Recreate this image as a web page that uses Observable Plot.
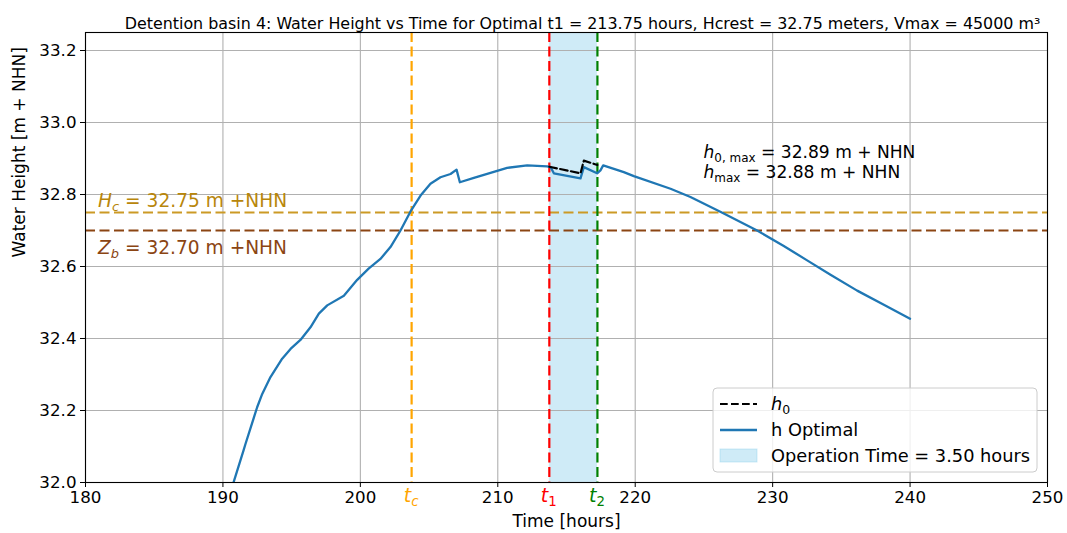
<!DOCTYPE html>
<html><head><meta charset="utf-8">
<script src="https://cdn.jsdelivr.net/npm/d3@7"></script>
<script src="https://cdn.jsdelivr.net/npm/@observablehq/plot@0.6"></script>
<style>body{margin:0;background:#fff;font-family:"DejaVu Sans",sans-serif}</style>
</head><body><div id="chart"></div>
<script>
const FONT = "DejaVu Sans";
const titleText = "Detention basin 4: Water Height vs Time for Optimal t1 = 213.75 hours, Hcrest = 32.75 meters, Vmax = 45000 m³";
const xLabel = "Time [hours]";
const yLabel = "Water Height [m + NHN]";
const xTicks = [180, 190, 200, 210, 220, 230, 240, 250];
const yTicks = [32.0, 32.2, 32.4, 32.6, 32.8, 33.0, 33.2];

// h Optimal
const timeOpt = [190.77, 191.5, 191.64, 192.49, 192.86, 193.46, 194.31, 194.92, 195.64, 196.37, 196.98, 197.59, 198.8, 199.77, 200.6, 201.46, 202.19, 202.92, 203.65, 204.38, 205.1, 205.83, 206.56, 207.0, 207.24, 208.26, 209.47, 210.68, 212.14, 213.59, 213.84, 214.08, 216.02, 216.26, 217.23, 217.47, 217.67, 219.17, 219.9, 222.57, 224.02, 226.3, 228.87, 230.81, 232.51, 234.21, 236.15, 238.09, 240.0];
const hOpt = [32.0, 32.089, 32.107, 32.209, 32.246, 32.293, 32.344, 32.371, 32.396, 32.431, 32.469, 32.492, 32.519, 32.563, 32.594, 32.621, 32.654, 32.70, 32.753, 32.797, 32.83, 32.848, 32.857, 32.869, 32.834, 32.846, 32.86, 32.874, 32.881, 32.878, 32.876, 32.859, 32.845, 32.876, 32.859, 32.867, 32.881, 32.862, 32.851, 32.816, 32.793, 32.75, 32.70, 32.657, 32.617, 32.577, 32.533, 32.494, 32.455];
// h0
const timeH0 = [213.75, 216.02, 216.26, 217.25];
const hH0 = [32.877, 32.859, 32.894, 32.882];

const tc = 203.73, t1 = 213.75, t2 = 217.25;
const Hc = 32.75, Zb = 32.70;

const curve = timeOpt.map((t, i) => ({t, h: hOpt[i]}));
const curveH0 = timeH0.map((t, i) => ({t, h: hH0[i]}));

const dash = "10,4.5";
const plot = Plot.plot({
  width: 1067, height: 533,
  marginLeft: 85, marginRight: 20, marginTop: 32, marginBottom: 51,
  style: {fontFamily: FONT, fontSize: "16.7px", background: "white", color: "black", overflow: "visible"},
  x: {domain: [180, 250], label: null},
  y: {domain: [32.0, 33.25], label: null},
  marks: [
    Plot.rectX([{a: t1, b: t2}], {x1: "a", x2: "b", fill: "rgb(135,206,235)", fillOpacity: 0.4}),
    Plot.gridX(xTicks, {stroke: "#b0b0b0", strokeOpacity: 1, strokeWidth: 1.1}),
    Plot.gridY(yTicks, {stroke: "#b0b0b0", strokeOpacity: 1, strokeWidth: 1.1}),
    Plot.ruleY([Hc], {stroke: "#cc9a25", strokeWidth: 2.2, strokeDasharray: dash}),
    Plot.ruleY([Zb], {stroke: "#8b4513", strokeWidth: 2.2, strokeDasharray: dash}),
    Plot.ruleX([tc], {stroke: "orange", strokeWidth: 2.2, strokeDasharray: dash}),
    Plot.ruleX([t1], {stroke: "red", strokeWidth: 2.2, strokeDasharray: dash}),
    Plot.ruleX([t2], {stroke: "green", strokeWidth: 2.2, strokeDasharray: dash}),
    Plot.line(curve, {x: "t", y: "h", stroke: "#1f77b4", strokeWidth: 2.3, clip: true}),
    Plot.line(curveH0, {x: "t", y: "h", stroke: "black", strokeWidth: 2.2, strokeDasharray: "7.7,3.3"}),
    Plot.frame({stroke: "black", strokeWidth: 1.1}),
    Plot.axisX(xTicks, {tickSize: 5, tickPadding: 4, fontSize: 16.7, tickFormat: d => String(d)}),
    Plot.axisY(yTicks, {tickSize: 5, tickPadding: 4, fontSize: 16.7, tickFormat: d3.format(".1f")}),
    Plot.text([yLabel], {text: d => d, frameAnchor: "left", dx: -66, rotate: -90, fontSize: 17}),
    Plot.text([xLabel], {text: d => d, frameAnchor: "bottom", dy: 44, fontSize: 17}),
    Plot.text([titleText], {text: d => d, frameAnchor: "top", dx: 16, dy: -15, fontSize: 15.9})
  ]
});
document.getElementById("chart").appendChild(plot);

const sx = plot.scale("x"), sy = plot.scale("y");
const fx = sx.apply ? (v => sx.apply(v)) : d3.scaleLinear(sx.domain, sx.range);
const fy = sy.apply ? (v => sy.apply(v)) : d3.scaleLinear(sy.domain, sy.range);
const svg = d3.select(plot);

function richText(x, y, parts, o) {
  const t = svg.append("text").attr("x", x).attr("y", y)
    .attr("font-family", FONT).attr("font-size", o.size).attr("fill", o.color || "black")
    .attr("text-anchor", o.anchor || "start").style("white-space", "pre");
  let shift = 0;
  for (const p of parts) {
    const ts = t.append("tspan").text(p.t);
    const target = p.sub ? o.size * 0.22 : 0;
    ts.attr("dy", target - shift); shift = target;
    if (p.sub) ts.attr("font-size", o.size * 0.7);
    if (p.it) ts.attr("font-style", "italic");
  }
  return t;
}

// colored time labels under the axis
richText(fx(tc), 502, [{t: "t", it: true}, {t: "c", it: true, sub: true}], {size: 19, color: "orange", anchor: "middle"});
richText(fx(t1), 502, [{t: "t", it: true}, {t: "1", sub: true}], {size: 19, color: "red", anchor: "middle"});
richText(fx(t2), 502, [{t: "t", it: true}, {t: "2", sub: true}], {size: 19, color: "green", anchor: "middle"});

// level labels
richText(fx(180.95), fy(32.764), [{t: "H", it: true}, {t: "c", it: true, sub: true}, {t: " = 32.75 m +NHN"}], {size: 18.6, color: "#b8860b"});
richText(fx(180.95), fy(32.633), [{t: "Z", it: true}, {t: "b", it: true, sub: true}, {t: " = 32.70 m +NHN"}], {size: 18.6, color: "#8b4513"});

// annotation
richText(fx(225.0), fy(32.9), [{t: "h", it: true}, {t: "0, max", sub: true}, {t: " = 32.89 m + NHN"}], {size: 17.1});
richText(fx(225.0), fy(32.844), [{t: "h", it: true}, {t: "max", sub: true}, {t: " = 32.88 m + NHN"}], {size: 17.1});

// legend
const lg = svg.append("g");
lg.append("rect").attr("x", 713).attr("y", 388).attr("width", 324).attr("height", 84).attr("rx", 4)
  .attr("fill", "white").attr("fill-opacity", 0.8).attr("stroke", "#cccccc").attr("stroke-width", 1);
lg.append("line").attr("x1", 720).attr("x2", 757).attr("y1", 404).attr("y2", 404)
  .attr("stroke", "black").attr("stroke-width", 2.1).attr("stroke-dasharray", "7.7,3.3");
lg.append("line").attr("x1", 720).attr("x2", 757).attr("y1", 430).attr("y2", 430)
  .attr("stroke", "#1f77b4").attr("stroke-width", 2.3);
lg.append("rect").attr("x", 720).attr("y", 449).attr("width", 37).attr("height", 13)
  .attr("fill", "rgb(135,206,235)").attr("fill-opacity", 0.4).attr("stroke", "rgb(135,206,235)").attr("stroke-opacity", 0.4);
richText(771, 410, [{t: "h", it: true}, {t: "0", sub: true}], {size: 17.8});
richText(771, 436, [{t: "h Optimal"}], {size: 17.8});
richText(771, 462, [{t: "Operation Time = 3.50 hours"}], {size: 17.8});
</script>
</body></html>
